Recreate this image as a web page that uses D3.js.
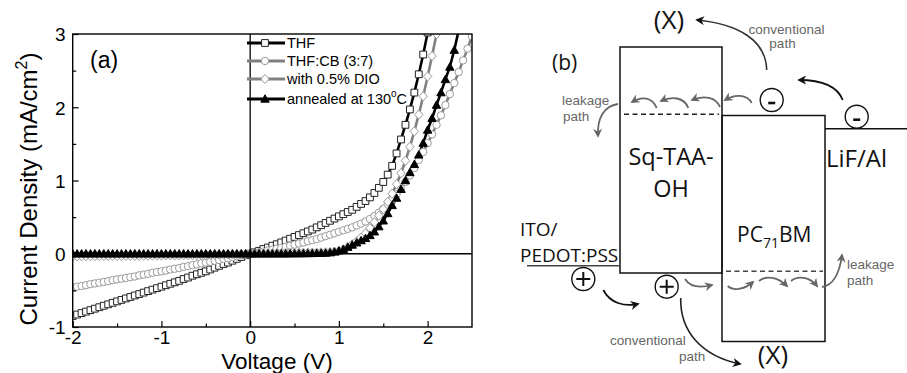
<!DOCTYPE html>
<html>
<head>
<meta charset="utf-8">
<script src="https://cdn.jsdelivr.net/npm/d3@7"></script>
<style>
  html, body { margin: 0; padding: 0; background: #fff; }
  svg { display: block; }
</style>
</head>
<body>
<svg id="chart" width="907" height="373"></svg>
<script>
// Voltage sweep (V)
const voltage = [-2.00,-1.95,-1.90,-1.85,-1.80,-1.75,-1.70,-1.65,-1.60,-1.55,-1.50,-1.45,-1.40,-1.35,-1.30,-1.25,-1.20,-1.15,-1.10,-1.05,
  -1.00,-0.95,-0.90,-0.85,-0.80,-0.75,-0.70,-0.65,-0.60,-0.55,-0.50,-0.45,-0.40,-0.35,-0.30,-0.25,-0.20,-0.15,-0.10,-0.05,
  0.00,0.05,0.10,0.15,0.20,0.25,0.30,0.35,0.40,0.45,0.50,0.55,0.60,0.65,0.70,0.75,0.80,0.85,0.90,0.95,
  1.00,1.05,1.10,1.15,1.20,1.25,1.30,1.35,1.40,1.45,1.50,1.55,1.60,1.65,1.70,1.75,1.80,1.85,1.90,1.95,
  2.00,2.05,2.10,2.15,2.20,2.25,2.30,2.35,2.40,2.45,2.50];

// Current density (mA/cm2)
const jTHF = [-0.85,-0.83,-0.81,-0.79,-0.77,-0.75,-0.73,-0.71,-0.69,-0.67,
  -0.65,-0.63,-0.61,-0.59,-0.57,-0.55,-0.53,-0.51,-0.49,-0.47,
  -0.45,-0.43,-0.41,-0.39,-0.37,-0.345,-0.325,-0.30,-0.28,-0.26,
  -0.24,-0.215,-0.19,-0.165,-0.14,-0.12,-0.095,-0.07,-0.045,-0.02,
  0.00,
  0.02,0.04,0.065,0.085,0.11,0.13,0.155,0.18,0.205,0.23,
  0.255,0.28,0.305,0.33,0.36,0.39,0.42,0.45,0.48,0.51,
  0.54,0.57,0.60,0.64,0.68,0.72,0.77,0.83,0.90,0.98,
  1.08,1.20,1.37,1.56,1.76,1.97,2.20,2.45,2.72,3.02];

const jTHFCB = [-0.46,-0.45,-0.44,-0.43,-0.415,-0.405,-0.395,-0.385,-0.375,-0.36,
  -0.35,-0.34,-0.33,-0.32,-0.31,-0.295,-0.285,-0.275,-0.26,-0.25,
  -0.24,-0.23,-0.215,-0.205,-0.195,-0.18,-0.17,-0.155,-0.145,-0.13,
  -0.12,-0.11,-0.095,-0.085,-0.07,-0.06,-0.045,-0.035,-0.02,-0.01,
  0.00,
  0.01,0.02,0.03,0.045,0.055,0.07,0.08,0.095,0.11,0.125,
  0.14,0.155,0.17,0.185,0.20,0.22,0.24,0.26,0.28,0.30,
  0.32,0.34,0.36,0.385,0.41,0.44,0.475,0.515,0.56,0.61,
  0.67,0.74,0.81,0.89,0.98,1.07,1.17,1.28,1.39,1.51,
  1.63,1.76,1.89,2.03,2.18,2.33,2.48,2.64,2.80,2.97];

const jDIO = [-0.035,-0.035,-0.034,-0.034,-0.033,-0.033,-0.032,-0.032,-0.031,-0.031,
  -0.030,-0.030,-0.029,-0.029,-0.028,-0.028,-0.027,-0.027,-0.026,-0.026,
  -0.025,-0.024,-0.023,-0.023,-0.022,-0.021,-0.020,-0.019,-0.018,-0.017,
  -0.016,-0.015,-0.014,-0.012,-0.011,-0.010,-0.008,-0.006,-0.004,-0.002,
  0.00,
  0.002,0.004,0.005,0.006,0.007,0.008,0.009,0.010,0.011,0.012,
  0.013,0.014,0.015,0.016,0.017,0.018,0.020,0.024,0.028,0.035,
  0.06,0.09,0.13,0.17,0.22,0.28,0.35,0.43,0.52,0.61,
  0.71,0.82,0.95,1.10,1.27,1.46,1.67,1.90,2.15,2.42,
  2.70,3.00];

const jAnneal = [0.00,0.00,0.00,0.00,0.00,0.00,0.00,0.00,0.00,0.00,
  0.00,0.00,0.00,0.00,0.00,0.00,0.00,0.00,0.00,0.00,
  0.00,0.00,0.00,0.00,0.00,0.00,0.00,0.00,0.00,0.00,
  0.00,0.00,0.00,0.00,0.00,0.00,0.00,0.00,0.00,0.00,
  0.00,
  0.00,0.00,0.00,0.00,0.00,0.00,0.00,0.00,0.001,0.002,
  0.002,0.003,0.004,0.005,0.006,0.008,0.010,0.015,0.025,0.04,
  0.06,0.09,0.12,0.15,0.18,0.21,0.25,0.30,0.37,0.45,
  0.55,0.66,0.76,0.88,1.00,1.11,1.22,1.35,1.51,1.69,
  1.85,2.03,2.20,2.38,2.55,2.78,3.05];

const seriesNames = ["THF", "THF:CB (3:7)", "with 0.5% DIO", "annealed at 130"];
const xTicks = [-2, -1, 0, 1, 2];
const yTicks = [-1, 0, 1, 2, 3];

const svg = d3.select("#chart");
const AXIS_FONT = "'Liberation Sans', Arial, sans-serif";
const DIAG_FONT = "'Open Sans', 'Noto Sans', sans-serif";

// ---------------- panel (a) ----------------
const plot = { left: 72.7, right: 472, top: 34, bottom: 327 };
const x = d3.scaleLinear().domain([-2, 2.5]).range([plot.left, plot.right]);
const y = d3.scaleLinear().domain([-1, 3]).range([plot.bottom, plot.top]);

svg.append("defs").append("clipPath").attr("id", "plotClip")
  .append("rect")
  .attr("x", plot.left).attr("y", plot.top)
  .attr("width", plot.right - plot.left).attr("height", plot.bottom - plot.top);

// marker shapes
const shapes = {
  square: "M-3.4,-3.4H3.4V3.4H-3.4Z",
  circle: "M3.7,0A3.7,3.7 0 1,1 -3.7,0A3.7,3.7 0 1,1 3.7,0Z",
  diamond: "M0,-4.6L4.2,0L0,4.6L-4.2,0Z",
  triangle: "M0,-4.2L4.2,3.2H-4.2Z"
};

const series = [
  { name: seriesNames[0], values: jTHF, line: "#000", lw: 2.6, shape: "square", fill: "#fff", stroke: "#222" },
  { name: seriesNames[1], values: jTHFCB, line: "#808080", lw: 2.6, shape: "circle", fill: "#fff", stroke: "#9a9a9a" },
  { name: seriesNames[2], values: jDIO, line: "#808080", lw: 2.6, shape: "diamond", fill: "#fff", stroke: "#9a9a9a" },
  { name: seriesNames[3], values: jAnneal, line: "#000", lw: 2.6, shape: "triangle", fill: "#000", stroke: "#000" }
];

const pa = svg.append("g").attr("class", "panel-a");
const dataLayer = pa.append("g").attr("clip-path", "url(#plotClip)");

const line = d3.line()
  .x(d => x(d[0]))
  .y(d => y(d[1]));

series.forEach(s => {
  const pts = s.values.map((v, i) => [voltage[i], v]);
  dataLayer.append("path")
    .attr("d", line(pts))
    .attr("fill", "none")
    .attr("stroke", s.line)
    .attr("stroke-width", s.lw);
});

series.forEach(s => {
  const pts = s.values.map((v, i) => [voltage[i], v]);
  dataLayer.selectAll(null)
    .data(pts)
    .join("path")
    .attr("d", shapes[s.shape])
    .attr("transform", d => `translate(${x(d[0])},${y(d[1])})`)
    .attr("fill", s.fill)
    .attr("stroke", s.stroke)
    .attr("stroke-width", 1);
});

// zero lines
pa.append("line")
  .attr("x1", x(0)).attr("x2", x(0)).attr("y1", plot.top).attr("y2", plot.bottom)
  .attr("stroke", "#000").attr("stroke-width", 1.3);
pa.append("line")
  .attr("x1", plot.left).attr("x2", plot.right).attr("y1", y(0)).attr("y2", y(0))
  .attr("stroke", "#000").attr("stroke-width", 1.3);

// frame
pa.append("rect")
  .attr("x", plot.left).attr("y", plot.top)
  .attr("width", plot.right - plot.left).attr("height", plot.bottom - plot.top)
  .attr("fill", "none").attr("stroke", "#000").attr("stroke-width", 1.4);

// axes with inward ticks; labels keep a plain hyphen
const plainNum = d => String(d);
const xAxis = pa.append("g")
  .attr("transform", `translate(0,${plot.bottom})`)
  .call(d3.axisBottom(x).tickValues(xTicks).tickSize(-6).tickPadding(4).tickFormat(plainNum));
pa.append("g")
  .attr("transform", `translate(0,${plot.bottom})`)
  .call(d3.axisBottom(x).tickValues([-1.5, -0.5, 0.5, 1.5]).tickSize(-3.5).tickFormat(""));
const yAxis = pa.append("g")
  .attr("transform", `translate(${plot.left},0)`)
  .call(d3.axisLeft(y).tickValues(yTicks).tickSize(-6).tickPadding(7).tickFormat(plainNum));
pa.append("g")
  .attr("transform", `translate(${plot.left},0)`)
  .call(d3.axisLeft(y).tickValues([-0.5, 0.5, 1.5, 2.5]).tickSize(-3.5).tickFormat(""));

pa.selectAll(".domain").remove();
pa.selectAll(".tick line").attr("stroke", "#000").attr("stroke-width", 1.2);
pa.selectAll(".tick text")
  .attr("fill", "#000")
  .style("font-family", AXIS_FONT)
  .style("font-size", "19px");
yAxis.selectAll(".tick text").attr("dy", "0.36em");

// axis titles
pa.append("text")
  .attr("x", 277)
  .attr("y", 369)
  .attr("text-anchor", "middle")
  .style("font-family", AXIS_FONT)
  .style("font-size", "22.5px")
  .text("Voltage (V)");

const yt = pa.append("text")
  .attr("transform", `translate(37,189) rotate(-90)`)
  .attr("text-anchor", "middle")
  .style("font-family", AXIS_FONT)
  .style("font-size", "24px");
yt.append("tspan").text("Current Density (mA/cm");
yt.append("tspan").attr("dy", -10).style("font-size", "16px").text("2");
yt.append("tspan").attr("dy", 10).text(")");

pa.append("text")
  .attr("x", 90).attr("y", 68)
  .style("font-family", AXIS_FONT)
  .style("font-size", "23px")
  .text("(a)");

// legend
const legendRows = [43, 61, 79, 99];
const leg = pa.append("g");
series.forEach((s, i) => {
  const ly = legendRows[i];
  leg.append("line")
    .attr("x1", 247).attr("x2", 285).attr("y1", ly).attr("y2", ly)
    .attr("stroke", s.line).attr("stroke-width", 3);
  leg.append("path")
    .attr("d", shapes[s.shape])
    .attr("transform", `translate(265,${ly})`)
    .attr("fill", s.fill).attr("stroke", s.stroke).attr("stroke-width", 1);
  const t = leg.append("text")
    .attr("x", 287).attr("y", ly + 5)
    .style("font-family", AXIS_FONT)
    .style("font-size", "14.5px");
  t.append("tspan").text(s.name);
  if (i === 3) {
    t.append("tspan").attr("dy", -7).style("font-size", "10px").text("o");
    t.append("tspan").attr("dy", 7).text("C");
  }
});

// ---------------- panel (b) ----------------
const pb = svg.append("g").attr("class", "panel-b");
const defs = svg.select("defs");
[["headBlack", "#111"], ["headGray", "#666"]].forEach(([id, col]) => {
  defs.append("marker")
    .attr("id", id)
    .attr("viewBox", "0 0 10 10")
    .attr("refX", 8).attr("refY", 5)
    .attr("markerWidth", 9).attr("markerHeight", 9)
    .attr("markerUnits", "userSpaceOnUse")
    .attr("orient", "auto")
    .append("path")
    .attr("d", "M0,0L10,5L0,10L3,5Z")
    .attr("fill", col);
});

// layer boxes and electrode levels
pb.append("rect").attr("x", 620).attr("y", 47).attr("width", 102).attr("height", 226)
  .attr("fill", "none").attr("stroke", "#111").attr("stroke-width", 1.5);
pb.append("rect").attr("x", 722).attr("y", 115.5).attr("width", 103).attr("height", 226)
  .attr("fill", "none").attr("stroke", "#111").attr("stroke-width", 1.5);
pb.append("line").attr("x1", 825).attr("x2", 907).attr("y1", 128.7).attr("y2", 128.7)
  .attr("stroke", "#111").attr("stroke-width", 1.5);
pb.append("line").attr("x1", 527).attr("x2", 620).attr("y1", 265.7).attr("y2", 265.7)
  .attr("stroke", "#444").attr("stroke-width", 1.5);
pb.append("line").attr("x1", 624).attr("x2", 719).attr("y1", 114.3).attr("y2", 114.3)
  .attr("stroke", "#222").attr("stroke-width", 1.4).attr("stroke-dasharray", "5,3.5");
pb.append("line").attr("x1", 726).attr("x2", 823).attr("y1", 271.3).attr("y2", 271.3)
  .attr("stroke", "#444").attr("stroke-width", 1.4).attr("stroke-dasharray", "5,3.5");

// charges
function charge(cx, cy, sign) {
  pb.append("circle").attr("cx", cx).attr("cy", cy).attr("r", 11.5)
    .attr("fill", "#fff").attr("stroke", "#111").attr("stroke-width", 1.4);
  if (sign === "+") {
    pb.append("path").attr("d", `M${cx - 7},${cy}H${cx + 7}M${cx},${cy - 7}V${cy + 7}`)
      .attr("stroke", "#111").attr("stroke-width", 2);
  } else {
    pb.append("line").attr("x1", cx - 3.5).attr("x2", cx + 3.5).attr("y1", cy + 3).attr("y2", cy + 3)
      .attr("stroke", "#111").attr("stroke-width", 2.6);
  }
}
charge(771.7, 100, "-");
charge(856.7, 116.7, "-");
charge(583.3, 279, "+");
charge(666.7, 286.7, "+");

// arrows
const arrows = [
  { d: "M766.7,70C766,40 738,24 697,20", c: "#333", head: "headBlack", w: 1.6 },
  { d: "M842.7,100C838,88 826,80 799,80", c: "#111", head: "headBlack", w: 1.8 },
  { d: "M603.3,290C610,303 624,307 638,304", c: "#111", head: "headBlack", w: 1.8 },
  { d: "M680.7,298C680,332 702,356 740,364", c: "#222", head: "headBlack", w: 1.6 },
  { d: "M656.7,108C652,97 642,96 632,102", c: "#666", head: "headGray", w: 1.8 },
  { d: "M688.3,108C684,97 672,96 661,101", c: "#666", head: "headGray", w: 1.8 },
  { d: "M720,107C716,97 704,95 692,100", c: "#666", head: "headGray", w: 1.8 },
  { d: "M751.7,103C747,94 735,94 725,100", c: "#666", head: "headGray", w: 1.8 },
  { d: "M618,104C604,106 597,118 598,136", c: "#666", head: "headGray", w: 1.8 },
  { d: "M685,279C690,287 700,288 712,285", c: "#666", head: "headGray", w: 1.8 },
  { d: "M727.7,286C733,291 744,290 753,282", c: "#666", head: "headGray", w: 1.8 },
  { d: "M759,281C766,275 778,277 787,286", c: "#666", head: "headGray", w: 1.8 },
  { d: "M791,281C798,275 810,277 817,286", c: "#666", head: "headGray", w: 1.8 },
  { d: "M822,287C835,285 840,270 842,255", c: "#666", head: "headGray", w: 1.8 }
];
pb.selectAll(null).data(arrows).join("path")
  .attr("d", d => d.d)
  .attr("fill", "none")
  .attr("stroke", d => d.c)
  .attr("stroke-width", d => d.w)
  .attr("marker-end", d => `url(#${d.head})`);

// labels
function label(txt, xx, yy, size, anchor, fill, family) {
  return pb.append("text")
    .attr("x", xx).attr("y", yy)
    .attr("text-anchor", anchor || "start")
    .attr("fill", fill || "#111")
    .style("font-family", family || DIAG_FONT)
    .style("font-size", size + "px")
    .text(txt);
}
label("(b)", 552, 70, 21);
label("(X)", 669, 29, 26, "middle");
label("(X)", 773, 364, 26, "middle");
label("Sq-TAA-", 671, 165, 23.5, "middle");
label("OH", 671, 197, 23.5, "middle");
label("LiF/Al", 826, 167, 24);
label("ITO/", 520, 235.5, 19);
label("PEDOT:PSS", 520, 261.5, 19);
const pc = pb.append("text")
  .attr("x", 737).attr("y", 242)
  .attr("fill", "#111")
  .style("font-family", DIAG_FONT)
  .style("font-size", "21px");
pc.append("tspan").text("PC");
pc.append("tspan").attr("dy", 6).style("font-size", "14px").text("71");
pc.append("tspan").attr("dy", -6).text("BM");

const small = 13.5;
label("conventional", 786.5, 34, small, "middle", "#666", AXIS_FONT);
label("path", 782.5, 48, small, "middle", "#666", AXIS_FONT);
label("leakage", 562, 105, small, "start", "#666", AXIS_FONT);
label("path", 563, 121, small, "start", "#666", AXIS_FONT);
label("conventional", 610, 345, small, "start", "#666", AXIS_FONT);
label("path", 679, 361, small, "start", "#666", AXIS_FONT);
label("leakage", 847, 269, small, "start", "#666", AXIS_FONT);
label("path", 847, 285, small, "start", "#666", AXIS_FONT);
</script>
</body>
</html>
